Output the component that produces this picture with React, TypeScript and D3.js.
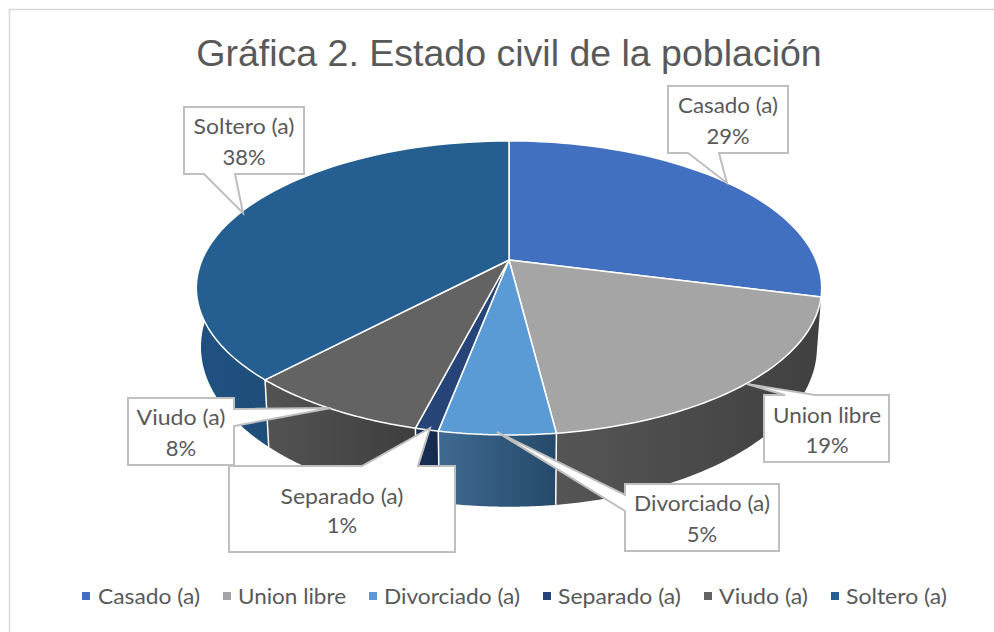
import React from "react";
import * as d3 from "d3";

const categories = ["Casado (a)", "Union libre", "Divorciado (a)", "Separado (a)", "Viudo (a)", "Soltero (a)"];
const percents = [29, 19, 5, 1, 8, 38];
const topColors = ["#4270c0", "#a5a5a5", "#5b9bd5", "#264478", "#636363", "#255e91"];
const wallFrom = ["#2f5597", "#555555", "#3f6a92", "#1a3058", "#535353", "#1f5080"];
const wallTo = ["#2f5597", "#404040", "#25496a", "#15294c", "#3e3e3e", "#1e4e78"];
const title = "Gráfica 2. Estado civil de la población";

const W = 994, H = 632;
const CX = 509, CY = 260, RX = 307, SY = 141.7, K = 0.19;
const BRX = 302.4, BCY = 316.6, BSY = 154;

type Callout = { path: [number, number][]; tx: number };
const callouts: Callout[] = [
  { path: [[668, 86], [788, 86], [788, 153], [719, 153], [727, 183], [688, 153], [668, 153]], tx: 728 },
  { path: [[764, 395], [785, 395], [747, 384], [815, 395], [889, 395], [889, 462], [764, 462]], tx: 827 },
  { path: [[625, 484], [779, 484], [779, 551], [625, 551], [625, 511], [497, 432], [625, 495]], tx: 702 },
  { path: [[229, 466], [362, 466], [430, 428], [418, 466], [455, 466], [455, 552], [229, 552]], tx: 342 },
  { path: [[128, 398], [234, 398], [234, 409], [331, 408], [234, 426], [234, 465], [128, 465]], tx: 181 },
  { path: [[184, 107], [304, 107], [304, 174], [235, 174], [243, 213], [204, 174], [184, 174]], tx: 244 },
];
const calloutLines: [number, number][] = [[113, 144], [423, 453], [511, 542], [504, 533], [425, 456], [134, 165]];
const legendMarkers = [82, 223, 369, 543, 704, 831];
const legendText: [number, number][] = [[98, 102], [238, 108], [384, 136], [558, 123], [719, 89], [846, 101]];
const labelWidths = [100, 108, 136, 123, 89, 101];

const topPt = (t: number): [number, number] => {
  const u = Math.sin(t), v = -Math.cos(t), d = 1 - K * v;
  return [CX + RX * u / d, CY + SY * v / d];
};
const botPt = (t: number): [number, number] => {
  const u = Math.sin(t), v = -Math.cos(t), d = 1 - K * v;
  return [CX + BRX * u / d, BCY + BSY * v / d];
};

const line = d3.line<[number, number]>();
const sampled = (a: number, b: number) => d3.range(0, 61).map((i) => a + ((b - a) * i) / 60);
const FONT = "Lato";

export default function App() {
  const arcs = d3.pie<number>().sort(null)(percents);
  const order = arcs.map((_, i) => i).filter((i) => i !== 0);
  const minVis = (100 * Math.PI) / 180, maxVis = (282 * Math.PI) / 180;
  return (
    <svg width={W} height={H} style={{ position: "absolute", left: 0, top: 0 }}>
      <defs>
        {arcs.map((a, i) => {
          const s = Math.max(a.startAngle, minVis), e = Math.min(a.endAngle, maxVis);
          return (
            <linearGradient key={i} id={`w${i}`} gradientUnits="userSpaceOnUse"
              x1={Math.min(topPt(s)[0], topPt(e)[0])} x2={Math.max(topPt(s)[0], topPt(e)[0])} y1={0} y2={0}>
              <stop offset="0" stopColor={wallFrom[i]} />
              <stop offset="1" stopColor={wallTo[i]} />
            </linearGradient>
          );
        })}
      </defs>
      <rect x={0} y={0} width={W} height={H} fill="#fff" />
      <path d={`M9.5 ${H}V9.5H${W}`} fill="none" stroke="#d9d9d9" strokeWidth={1.5} />
      <text x={509} y={66} textAnchor="middle" fontFamily="Liberation Sans" fontSize={37.5} fill="#595959">{title}</text>

      {order.map((i) => {
        const s = Math.max(arcs[i].startAngle, minVis), e = Math.min(arcs[i].endAngle, maxVis);
        if (e <= s) return null;
        const ts = sampled(s, e);
        const pts = [...ts.map(topPt), ...[...ts].reverse().map(botPt)];
        return <path key={i} d={line(pts)! + "Z"} fill={`url(#w${i})`} stroke="none" />;
      })}
      {order.map((i) => {
        const a = arcs[i].endAngle;
        if (a > maxVis || a < minVis) return null;
        return <path key={i} d={line([topPt(a), botPt(a)])!} stroke="#fff" strokeWidth={1.5} />;
      })}
      {arcs.map((a, i) => {
        const pts = sampled(a.startAngle, a.endAngle).map(topPt);
        return (
          <path key={i} d={line([[CX, CY], ...pts])! + "Z"} fill={topColors[i]} stroke="#fff" strokeWidth={1.5} strokeLinejoin="round" />
        );
      })}

      {callouts.map((c, i) => (
        <g key={i}>
          <path d={line(c.path)! + "Z"} fill="#fff" stroke="#bfbfbf" strokeWidth={2} strokeLinejoin="miter" />
          <text x={c.tx} y={calloutLines[i][0]} textAnchor="middle" fontFamily={FONT} fontSize={22} fill="#595959"
            textLength={labelWidths[i]} lengthAdjust="spacingAndGlyphs">{categories[i]}</text>
          <text x={c.tx} y={calloutLines[i][1]} textAnchor="middle" fontFamily={FONT} fontSize={22} fill="#595959">{percents[i]}%</text>
        </g>
      ))}

      {categories.map((c, i) => (
        <g key={i}>
          <rect x={legendMarkers[i]} y={592} width={8} height={8} fill={topColors[i]} />
          <text x={legendText[i][0]} y={604} fontFamily={FONT} fontSize={22} fill="#595959"
            textLength={legendText[i][1]} lengthAdjust="spacingAndGlyphs">{c}</text>
        </g>
      ))}
    </svg>
  );
}
